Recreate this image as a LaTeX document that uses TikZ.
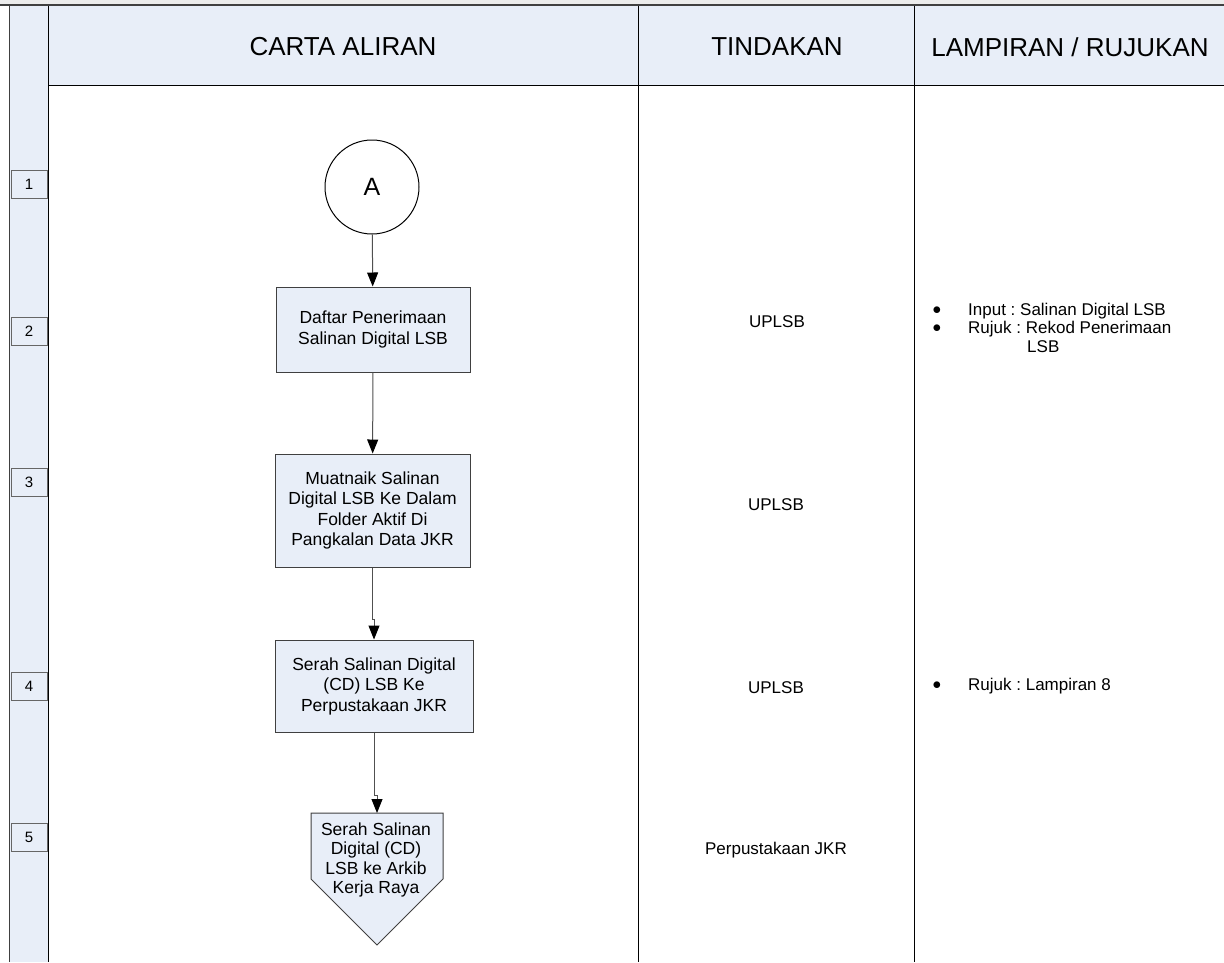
\documentclass[tikz,border=0pt]{standalone}
\usepackage{fontspec}
\setmainfont{Liberation Sans}
\usetikzlibrary{arrows.meta}
\frenchspacing
\definecolor{boxfill}{HTML}{E8EEF8}
\definecolor{edgegray}{HTML}{404040}
\definecolor{linegray}{HTML}{505050}
\begin{document}
\begin{tikzpicture}[x=1pt,y=-1pt,
  flowbox/.style={draw=edgegray, fill=boxfill, line width=1pt, align=center, inner sep=0pt, font=\fontsize{17.5}{20.5}\selectfont},
  numbox/.style={draw=edgegray!80, fill=boxfill, line width=1pt, minimum width=36pt, minimum height=28pt, inner sep=0pt, font=\fontsize{15}{18}\selectfont},
  headtext/.style={font=\fontsize{26}{30}\selectfont},
  smalltext/.style={inner sep=0pt, font=\fontsize{17}{20}\selectfont},
  flow/.style={draw=linegray, line width=1pt, -{Triangle[length=14pt,width=11pt,color=black]}}]
\useasboundingbox (0,0) rectangle (1224,962);
\fill[gray!15] (0,0) rectangle (1224,5);
\fill[boxfill] (9,6) rectangle (1224,85);
\fill[boxfill] (9,85) rectangle (48,962);
\draw[edgegray, line width=1pt] (9,6) -- (9,962);
\draw[black, line width=1pt] (48,6) -- (48,962);
\draw[black, line width=1pt] (638,6) -- (638,962);
\draw[black, line width=1pt] (914,6) -- (914,962);
\draw[black, line width=1pt] (48,85) -- (1224,85);
\draw[edgegray, line width=2.5pt] (0,5) -- (1224,5);
\node[headtext] (hcarta) at (343,47) {CARTA ALIRAN};
\node[headtext] (htindakan) at (777,47) {TINDAKAN};
\node[headtext] (hlampiran) at (1070,47) {LAMPIRAN / RUJUKAN};
\node[numbox] (n1) at (29,184) {1};
\node[numbox] (n2) at (29,331) {2};
\node[numbox] (n3) at (29,482) {3};
\node[numbox] (n4) at (29,686) {4};
\node[numbox] (n5) at (29,837) {5};
\node[circle, draw=black, fill=white, line width=1pt, minimum size=94pt, inner sep=0pt, font=\fontsize{25}{28}\selectfont] (mulaA) at (372,187) {A};
\node[flowbox, minimum width=194pt, minimum height=85pt] (daftar) at (373,329.5) {Daftar Penerimaan\\Salinan Digital LSB};
\node[flowbox, minimum width=195pt, minimum height=113pt] (muatnaik) at (372.5,510.5) {Muatnaik Salinan\\Digital LSB Ke Dalam\\Folder Aktif Di\\Pangkalan Data JKR};
\node[flowbox, minimum width=198pt, minimum height=92pt] (serah) at (374,686) {Serah Salinan Digital\\(CD) LSB Ke\\Perpustakaan JKR};
\coordinate (arkibtop) at (377,813);
\draw[draw=edgegray, fill=boxfill, line width=1pt] (311,813) -- (443,813) -- (443,879) -- (377,945) -- (311,879) -- cycle;
\node[smalltext, align=center, font=\fontsize{17.5}{19.5}\selectfont] (arkib) at (376,860) {Serah Salinan\\Digital (CD)\\LSB ke Arkib\\Kerja Raya};
\draw[flow] (mulaA) -- (daftar);
\draw[flow] (daftar) -- (muatnaik);
\draw[flow] (muatnaik.south) -- ++(0,52) -| (serah.north);
\draw[flow] (serah.south) -- ++(0,63) -| (arkibtop);
\node[smalltext] (t2) at (777,322) {UPLSB};
\node[smalltext] (t3) at (776,505) {UPLSB};
\node[smalltext] (t4) at (776,688) {UPLSB};
\node[smalltext] (t5) at (776,850) {Perpustakaan JKR};
\node[smalltext] (b21) at (937,311) {$\bullet$};
\node[smalltext, anchor=west] (r21) at (968,311) {Input : Salinan Digital LSB};
\node[smalltext] (b22) at (937,329) {$\bullet$};
\node[smalltext, anchor=west] (r22) at (968,329) {Rujuk : Rekod Penerimaan};
\node[smalltext, anchor=west] (r23) at (1027,347) {LSB};
\node[smalltext] (b41) at (937,686) {$\bullet$};
\node[smalltext, anchor=west] (r41) at (968,686) {Rujuk : Lampiran 8};
\end{tikzpicture}
\end{document}
